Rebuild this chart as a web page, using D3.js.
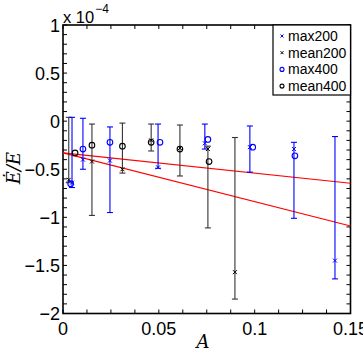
<!DOCTYPE html>
<html>
<head>
<meta charset="utf-8">
<script src="https://cdn.jsdelivr.net/npm/d3@7"></script>
<style>
  body { margin: 0; background: #fff; }
  svg { display: block; font-family: "Liberation Sans", Arial, sans-serif; }
</style>
</head>
<body>
<div class="container"></div>
<script>
// values are in units of 1e-4
const mean200A  = [0.003, 0.0151, 0.031, 0.046, 0.061, 0.0756, 0.0897];
const mean200V  = [-0.61, -0.42, -0.50, -0.20, -0.28, -0.29, -1.57];
const mean200Hi = [0.04, -0.03, -0.02, -0.03, -0.04, -0.26, -0.17];
const mean200Lo = [-0.64, -0.98, -0.54, -0.31, -0.57, -1.11, -1.85];

const max200A  = [0.0047, 0.0104, 0.0245, 0.0496, 0.074, 0.0975, 0.1205, 0.1419];
const max200V  = [-0.64, -0.40, -0.41, -0.48, -0.23, -0.27, -0.29, -1.45];
const max200Hi = [0.04, 0.03, -0.06, -0.03, -0.03, -0.05, -0.22, -0.16];
const max200Lo = [-0.69, -0.50, -0.95, -0.49, -0.29, -0.53, -1.01, -1.64];

const max400A = [0.004, 0.0104, 0.0245, 0.0506, 0.0756, 0.099, 0.121];
const max400V = [-0.65, -0.29, -0.22, -0.22, -0.19, -0.27, -0.36];

const mean400A = [0.0063, 0.0151, 0.031, 0.046, 0.061, 0.0762];
const mean400V = [-0.33, -0.25, -0.26, -0.22, -0.29, -0.42];

const fitA  = [0, 0.15];
const fit1V = [-0.33, -0.645];
const fit2V = [-0.33, -1.09];

const xTicks = [0, 0.05, 0.1, 0.15];
const xTickLabels = ['0', '0.05', '0.1', '0.15'];
const yTicks = [1, 0.5, 0, -0.5, -1, -1.5, -2];
const yTickLabels = ['1', '0.5', '0', '\u22120.5', '\u22121', '\u22121.5', '\u22122'];

const legendNames = ['max200', 'mean200', 'max400', 'mean400'];

const BLUE = '#0000ff', BLACK = '#000', GRAY = '#333', RED = '#ff0000';

const W = 363, H = 352;
const svg = d3.select('.container').append('svg')
        .attr('width', W)
        .attr('height', H);

const x = d3.scaleLinear().domain([0, 0.15]).range([63, 350.5]);
const y = d3.scaleLinear().domain([-2, 1]).range([313.5, 25]);

// minor + major ticks on all four sides, pointing inward
const tickLen = 4;
const xMinor = d3.range(0, 0.1500001, 0.0125);
const yMinor = d3.range(-2, 1.00001, 0.1);
const ticks = svg.append('g').attr('stroke', BLACK).attr('stroke-width', 1);
xMinor.forEach(t => {
    ticks.append('line').attr('x1', x(t)).attr('x2', x(t))
        .attr('y1', y.range()[0]).attr('y2', y.range()[0] - tickLen);
    ticks.append('line').attr('x1', x(t)).attr('x2', x(t))
        .attr('y1', y.range()[1]).attr('y2', y.range()[1] + tickLen);
});
yMinor.forEach(t => {
    ticks.append('line').attr('y1', y(t)).attr('y2', y(t))
        .attr('x1', x.range()[0]).attr('x2', x.range()[0] + tickLen);
    ticks.append('line').attr('y1', y(t)).attr('y2', y(t))
        .attr('x1', x.range()[1]).attr('x2', x.range()[1] - tickLen);
});

// box
svg.append('rect')
    .attr('x', x.range()[0]).attr('y', y.range()[1])
    .attr('width', x.range()[1] - x.range()[0])
    .attr('height', y.range()[0] - y.range()[1])
    .attr('fill', 'none').attr('stroke', BLACK).attr('stroke-width', 1.6);

// tick labels
svg.append('g').selectAll('text').data(xTicks).enter().append('text')
    .attr('x', d => x(d)).attr('y', 335)
    .attr('text-anchor', 'middle').attr('font-size', 18)
    .text((d, i) => xTickLabels[i]);

svg.append('g').selectAll('text').data(yTicks).enter().append('text')
    .attr('x', 60).attr('y', d => y(d) + 6.5)
    .attr('text-anchor', 'end').attr('font-size', 18)
    .text((d, i) => yTickLabels[i]);

// exponent
const expo = svg.append('text').attr('x', 63).attr('y', 23).attr('font-size', 16.5);
expo.append('tspan').text('x 10');
expo.append('tspan').attr('dy', -10).attr('dx', 1).attr('font-size', 12).text('\u22124');

// axis labels
svg.append('text')
    .attr('x', 203).attr('y', 348)
    .attr('text-anchor', 'middle')
    .attr('font-family', '"DejaVu Serif", "Liberation Serif", serif')
    .attr('font-style', 'italic').attr('font-size', 18)
    .text('A');

svg.append('text')
    .attr('transform', 'translate(20,168) rotate(-90)')
    .attr('text-anchor', 'middle')
    .attr('font-family', '"DejaVu Serif", "Liberation Serif", serif')
    .attr('font-style', 'italic').attr('font-size', 18)
    .text('\u0116/E');

const plot = svg.append('g');

// fit lines
const line = d3.line().x(d => x(d[0])).y(d => y(d[1]));
[fit1V, fit2V].forEach(v => {
    plot.append('path')
        .datum(fitA.map((a, i) => [a, v[i]]))
        .attr('d', line)
        .attr('fill', 'none').attr('stroke', RED).attr('stroke-width', 1.1);
});

function errorBars(A, hi, lo, color) {
    const g = plot.append('g').attr('stroke', color).attr('stroke-width', 1.1);
    A.forEach((a, i) => {
        const cx = x(a);
        g.append('line').attr('x1', cx).attr('x2', cx).attr('y1', y(hi[i])).attr('y2', y(lo[i]));
        g.append('line').attr('x1', cx - 3).attr('x2', cx + 3).attr('y1', y(hi[i])).attr('y2', y(hi[i]));
        g.append('line').attr('x1', cx - 3).attr('x2', cx + 3).attr('y1', y(lo[i])).attr('y2', y(lo[i]));
    });
}

function crosses(g, A, V, color, s) {
    A.forEach((a, i) => {
        const cx = x(a), cy = y(V[i]);
        g.append('path')
            .attr('d', `M${cx - s},${cy - s}L${cx + s},${cy + s}M${cx - s},${cy + s}L${cx + s},${cy - s}`)
            .attr('stroke', color).attr('stroke-width', 1).attr('fill', 'none');
    });
}

function circles(g, A, V, color, r) {
    g.selectAll(null).data(A).enter().append('circle')
        .attr('cx', d => x(d)).attr('cy', (d, i) => y(V[i])).attr('r', r)
        .attr('fill', 'none').attr('stroke', color).attr('stroke-width', 1.1);
}

errorBars(mean200A, mean200Hi, mean200Lo, GRAY);
errorBars(max200A, max200Hi, max200Lo, BLUE);

const marks = plot.append('g');
crosses(marks, max200A, max200V, BLUE, 2);
crosses(marks, mean200A, mean200V, BLACK, 2);
circles(marks, max400A, max400V, BLUE, 2.8);
circles(marks, mean400A, mean400V, BLACK, 2.8);

// legend
const lg = svg.append('g');
lg.append('rect')
    .attr('x', 273).attr('y', 25).attr('width', 77.5).attr('height', 70)
    .attr('fill', '#fff').attr('stroke', BLACK).attr('stroke-width', 1.2);
const legendColors = [BLUE, BLACK, BLUE, BLACK];
legendNames.forEach((name, i) => {
    const ly = 36 + i * 16.7;
    const g = lg.append('g');
    if (i < 2) {
        g.append('path')
            .attr('d', `M280.5,${ly - 1.5}L283.5,${ly + 1.5}M280.5,${ly + 1.5}L283.5,${ly - 1.5}`)
            .attr('stroke', legendColors[i]).attr('stroke-width', 1);
    } else {
        g.append('circle').attr('cx', 282).attr('cy', ly).attr('r', 2)
            .attr('fill', 'none').attr('stroke', legendColors[i]).attr('stroke-width', 1.1);
    }
    g.append('text').attr('x', 288).attr('y', ly + 5)
        .attr('font-size', 14).text(name);
});
</script>
</body>
</html>
